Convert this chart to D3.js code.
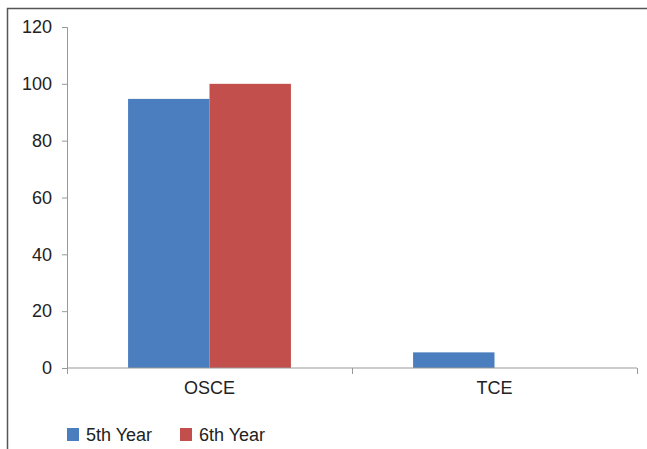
<!DOCTYPE html>
<html>
<head>
<meta charset="utf-8">
<script src="https://cdn.jsdelivr.net/npm/d3@7"></script>
<style>
  body { margin: 0; background: #fff; }
  svg text { font-family: "Liberation Sans", Arial, sans-serif; fill: #222; }
</style>
</head>
<body>
<div id="chart"></div>
<script>
const categories = ['OSCE', 'TCE'];
const seriesNames = ['5th Year', '6th Year'];
const fifthYear = [94.7, 5.5];
const sixthYear = [100, 0];
const yTicks = [0, 20, 40, 60, 80, 100, 120];
const colors = ['#4A7EBF', '#C24F4B'];

const width = 647, height = 449;
const margin = { top: 27, left: 67 };
const plotRight = 637, plotBottom = 368;
const fontSize = '18px';

const svg = d3.select('#chart').append('svg')
  .attr('width', width)
  .attr('height', height);

// outer frame (only left and top show in the crop)
svg.append('path')
  .attr('d', `M7.5,${height} V8.5 H${width}`)
  .attr('fill', 'none')
  .attr('stroke', '#555')
  .attr('stroke-width', 1.5);

const x = d3.scaleBand()
  .domain(categories)
  .range([margin.left, plotRight])
  .paddingInner(0)
  .paddingOuter(0);

const xSub = d3.scaleBand()
  .domain(seriesNames)
  .range([0, x.bandwidth()])
  .paddingInner(0)
  .paddingOuter(0.75);

const y = d3.scaleLinear()
  .domain([0, 120])
  .range([plotBottom, margin.top]);

const data = categories.map((c, i) => ({ cat: c, vals: [fifthYear[i], sixthYear[i]] }));

const groups = svg.append('g').selectAll('g')
  .data(data)
  .enter().append('g')
  .attr('transform', d => `translate(${x(d.cat)},0)`);

groups.selectAll('rect')
  .data(d => d.vals.map((v, i) => ({ name: seriesNames[i], v: v, i: i })))
  .enter().append('rect')
  .filter(d => d.v > 0)
  .attr('x', d => xSub(d.name))
  .attr('width', xSub.bandwidth())
  .attr('y', d => y(d.v))
  .attr('height', d => y(0) - y(d.v))
  .attr('fill', d => colors[d.i]);

// y axis
const yAxis = svg.append('g')
  .attr('transform', `translate(${margin.left},0)`)
  .call(d3.axisLeft(y).tickValues(yTicks).tickSize(5).tickPadding(10));
yAxis.select('.domain').attr('stroke', '#999');
yAxis.selectAll('.tick line').attr('stroke', '#999');
yAxis.selectAll('.tick text').style('font-size', fontSize).attr('fill', '#222');

// x axis
const xAxis = svg.append('g')
  .attr('transform', `translate(0,${plotBottom})`)
  .call(d3.axisBottom(x).tickSize(0).tickPadding(13));
xAxis.select('.domain').attr('stroke', '#999').attr('d', `M${margin.left},0H${plotRight}`);
xAxis.selectAll('.tick text').style('font-size', fontSize).attr('fill', '#222');

// category separators
svg.append('g').selectAll('line')
  .data([margin.left].concat(categories.map(c => x(c) + x.bandwidth())))
  .enter().append('line')
  .attr('x1', d => d + 0.5).attr('x2', d => d + 0.5)
  .attr('y1', plotBottom).attr('y2', plotBottom + 6)
  .attr('stroke', '#999');

// legend
const legend = svg.append('g').attr('transform', 'translate(67,428)');
const items = legend.selectAll('g')
  .data(seriesNames)
  .enter().append('g')
  .attr('transform', (d, i) => `translate(${i * 113},0)`);
items.append('rect')
  .attr('width', 12).attr('height', 13)
  .attr('fill', (d, i) => colors[i]);
items.append('text')
  .attr('x', 19).attr('y', 13)
  .style('font-size', fontSize)
  .text(d => d);
</script>
</body>
</html>
